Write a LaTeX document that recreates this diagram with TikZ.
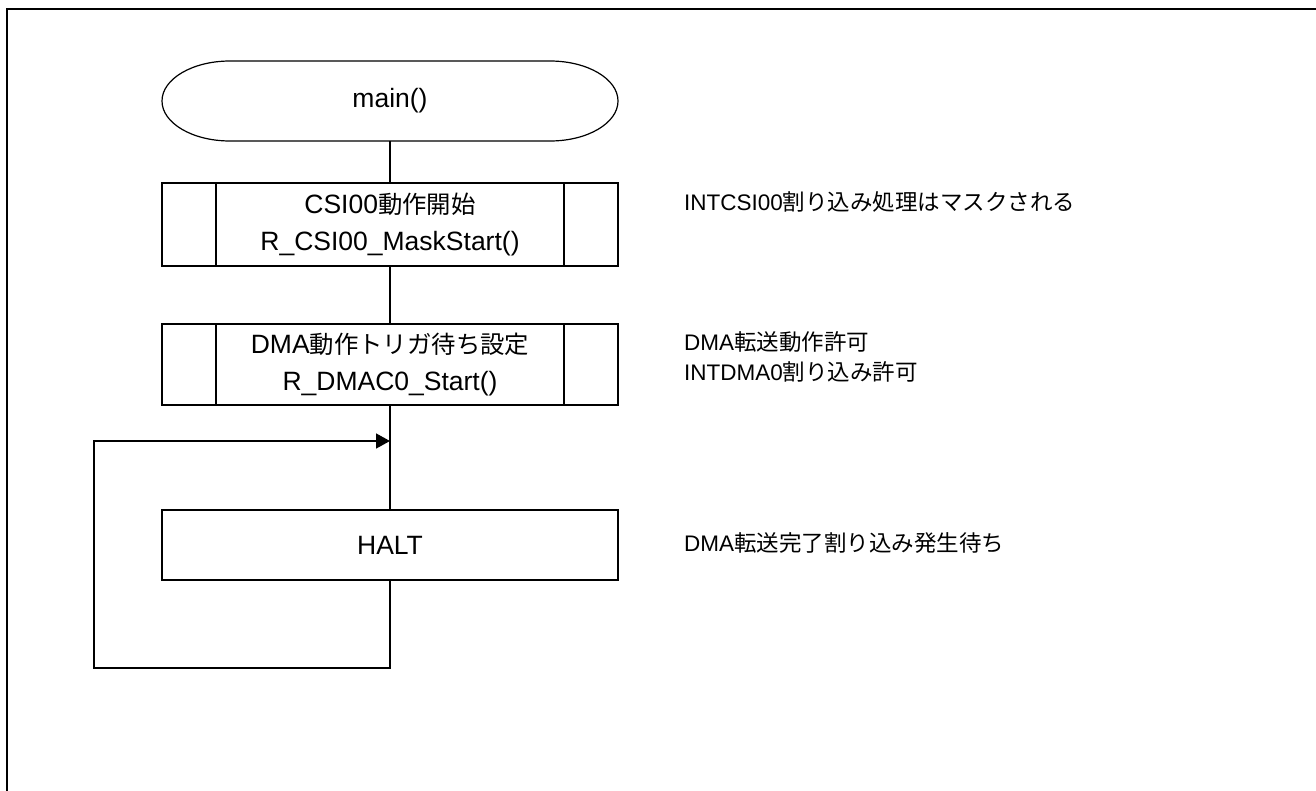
\documentclass[tikz,border=0pt]{standalone}
\usepackage{fontspec}
\setmainfont{Liberation Sans}
\newfontfamily\jp{Noto Sans CJK JP}
\newfontfamily\jpb[Scale=0.92]{Noto Sans CJK JP}
\usetikzlibrary{arrows.meta,calc}
\begin{document}
\begin{tikzpicture}[x=1pt,y=-1pt,
  box/.style={draw, line width=1.8pt, minimum width=456pt, inner sep=0pt, align=center, font=\fontsize{26.5}{37}\selectfont},
  note/.style={anchor=west, inner sep=0pt, align=left, font=\fontsize{22.5}{30}\selectfont},
  conn/.style={line width=1.5pt},
  arr/.style={conn, -{Triangle[length=14pt,width=15pt]}}]
\useasboundingbox (0,0) rectangle (1316,790);
\draw[line width=2.5pt] (7,800) -- (7,9) -- (1320,9);
% terminal
\node[inner sep=0pt, minimum width=456pt, minimum height=80pt, font=\fontsize{26.5}{37}\selectfont] (start) at (390,101) {main()};
\draw[line width=1.2pt] (230,61) -- (550,61) arc[start angle=90, end angle=-90, x radius=68pt, y radius=40pt] -- (230,141) arc[start angle=270, end angle=90, x radius=68pt, y radius=40pt] -- cycle;
% boxes
\node[box, minimum height=83pt] (b1) at (390,224.5) {CSI00{\jpb 動作開始}\\R\_CSI00\_MaskStart()};
\draw[line width=1.8pt] ($(b1.north west)+(55,0)$) -- ($(b1.south west)+(55,0)$);
\draw[line width=1.8pt] ($(b1.north east)+(-55,0)$) -- ($(b1.south east)+(-55,0)$);
\node[box, minimum height=81pt] (b2) at (390,364.5) {DMA{\jpb 動作トリガ待ち設定}\\R\_DMAC0\_Start()};
\draw[line width=1.8pt] ($(b2.north west)+(55,0)$) -- ($(b2.south west)+(55,0)$);
\draw[line width=1.8pt] ($(b2.north east)+(-55,0)$) -- ($(b2.south east)+(-55,0)$);
\node[box, minimum height=70pt] (halt) at (390,545) {HALT};
% connectors
\coordinate (j) at (390,441);
\coordinate (lb) at (94,668);
\coordinate (lt) at (94,441);
\coordinate (hb) at (390,668);
\draw[conn] (start.south) -- (b1.north);
\draw[conn] (b1.south) -- (b2.north);
\draw[conn] (b2.south) -- (halt.north);
\draw[arr] (halt.south) -- (hb) -- (lb) -- (lt) -- (j);
% notes
\node[note] (n1) at (684,202) {INTCSI00{\jp 割り込み処理はマスクされる}};
\node[note] (n2) at (684,357) {DMA{\jp 転送動作許可}\\INTDMA0{\jp 割り込み許可}};
\node[note] (n3) at (684,543) {DMA{\jp 転送完了割り込み発生待ち}};
\end{tikzpicture}
\end{document}
